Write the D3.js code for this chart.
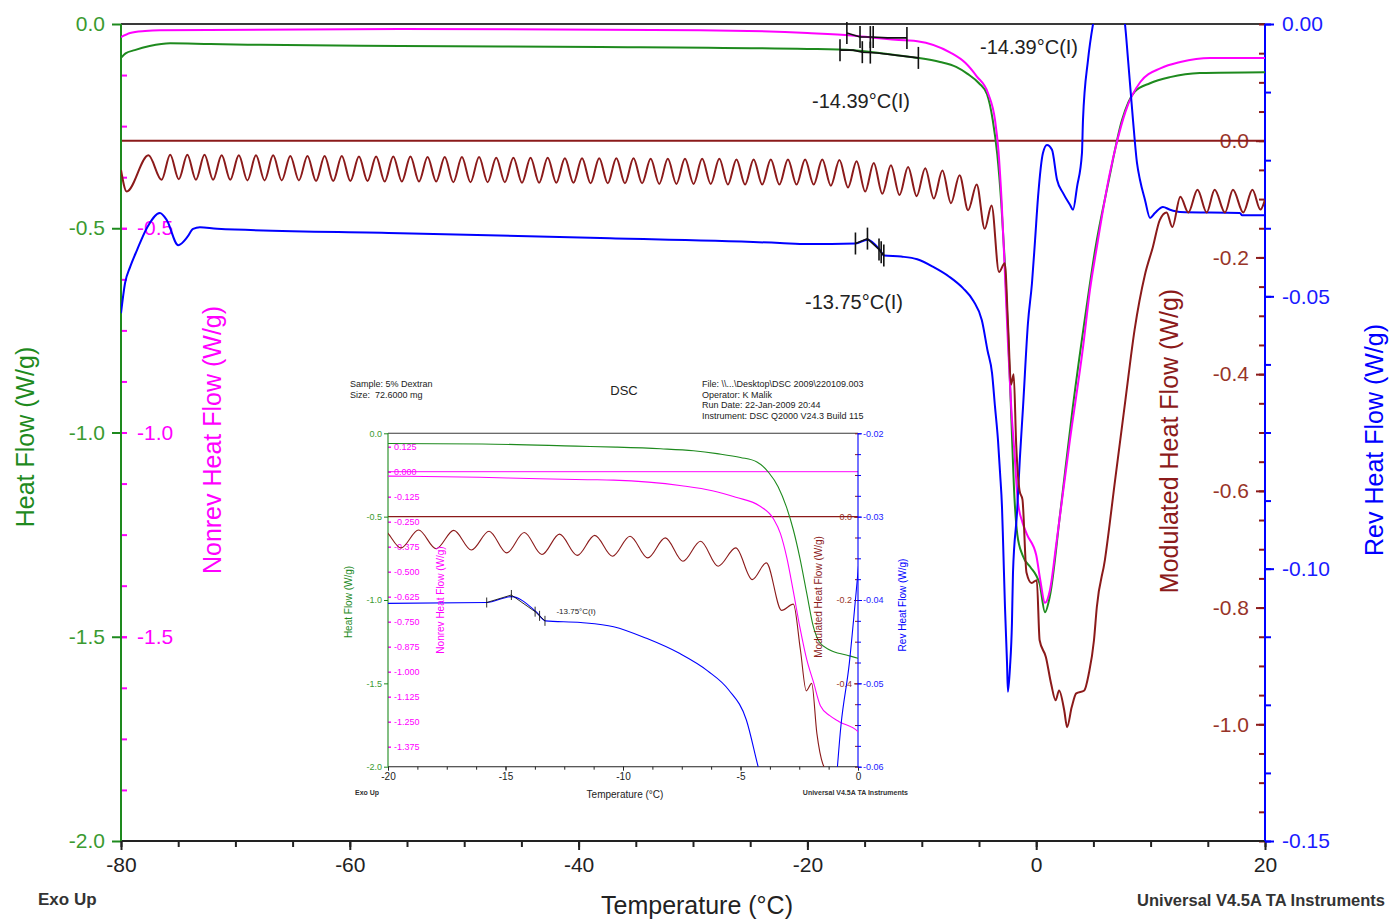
<!DOCTYPE html>
<html lang="en">
<head>
<meta charset="UTF-8">
<title>DSC - 5% Dextran</title>
<script src="https://d3js.org/d3.v7.min.js"></script>
<style>
    body, html { margin: 0; padding: 0; background: #fff; overflow: hidden; }
    svg { display: block; font-family: "Liberation Sans", Arial, sans-serif; }
    .pre { white-space: pre; }
</style>
</head>
<body>
<svg id="chart"></svg>
<script>
// ---- data: [temperature °C, value W/g] ----
const heatFlow = [
    [-80, -0.083], [-79.6, -0.072], [-78.8, -0.064], [-77.5, -0.054], [-75.7, -0.047],
    [-72.2, -0.049], [-67.8, -0.051], [-55.6, -0.054], [-38.1, -0.056], [-20.0, -0.061],
    [-16.0, -0.064], [-12.0, -0.077], [-10.3, -0.083], [-8.4, -0.093], [-7.0, -0.105],
    [-6.0, -0.122], [-5.0, -0.145], [-4.3, -0.172], [-3.8, -0.235], [-3.4, -0.32],
    [-3.05, -0.44], [-2.75, -0.58], [-2.47, -0.75], [-2.18, -0.96], [-1.9, -1.16],
    [-1.65, -1.25], [-1.2, -1.30], [-0.5, -1.33], [0.0, -1.35], [0.3, -1.37],
    [0.77, -1.44], [1.2, -1.40], [2.1, -1.197], [3.2, -0.938], [4.4, -0.693],
    [5.15, -0.553], [6.3, -0.389], [7.5, -0.235], [8.6, -0.166], [9.95, -0.145],
    [11.7, -0.130], [14.3, -0.120], [20, -0.118]
];

const nonrevFlow = [
    [-80, -0.032], [-79.2, -0.022], [-77.9, -0.017], [-76.6, -0.015], [-55.6, -0.012],
    [-29.4, -0.015], [-20.0, -0.022], [-16.1, -0.028], [-14.0, -0.034], [-11.5, -0.040],
    [-10.4, -0.042], [-7.5, -0.070], [-6.2, -0.095], [-5.2, -0.128], [-4.2, -0.170],
    [-3.6, -0.235], [-3.3, -0.31], [-3.03, -0.43], [-2.75, -0.60], [-2.47, -0.78],
    [-2.18, -0.94], [-1.9, -1.05], [-1.6, -1.17], [-1.2, -1.22], [-0.8, -1.25],
    [0.0, -1.30], [0.35, -1.36], [0.77, -1.417], [1.2, -1.386], [1.8, -1.263],
    [2.95, -1.018], [4.1, -0.79], [4.7, -0.651], [5.3, -0.546], [6.4, -0.370],
    [7.1, -0.284], [7.8, -0.215], [9.1, -0.142], [10.9, -0.108], [12.6, -0.093],
    [15.2, -0.083], [20, -0.083]
];

const modulatedFlow = [
    [-80, -0.050], [-79.5, -0.087],
    [-77.6, -0.025], [-76.45, -0.067], [-75.7, -0.024], [-74.95, -0.066], [-74.2, -0.024], [-73.45, -0.067],
    [-72.7, -0.024], [-71.95, -0.067], [-71.2, -0.025], [-70.45, -0.067], [-69.7, -0.025], [-68.95, -0.068],
    [-68.2, -0.025], [-67.45, -0.068], [-66.7, -0.025], [-65.95, -0.068], [-65.2, -0.026], [-64.45, -0.068],
    [-63.7, -0.026], [-62.95, -0.069], [-62.2, -0.026], [-61.45, -0.069], [-60.7, -0.026], [-59.95, -0.069],
    [-59.2, -0.027], [-58.45, -0.069], [-57.7, -0.027], [-56.95, -0.070], [-56.2, -0.027], [-55.45, -0.070],
    [-54.7, -0.027], [-53.95, -0.070], [-53.2, -0.028], [-52.45, -0.070], [-51.7, -0.028], [-50.95, -0.071],
    [-50.2, -0.028], [-49.45, -0.071], [-48.7, -0.028], [-47.95, -0.071], [-47.2, -0.029], [-46.45, -0.071],
    [-45.7, -0.029], [-44.95, -0.072], [-44.2, -0.029], [-43.45, -0.072], [-42.7, -0.029], [-41.95, -0.072],
    [-41.2, -0.030], [-40.45, -0.072], [-39.7, -0.030], [-38.95, -0.073], [-38.2, -0.030], [-37.45, -0.073],
    [-36.7, -0.030], [-35.95, -0.073], [-35.2, -0.030], [-34.45, -0.073], [-33.7, -0.031], [-32.95, -0.074],
    [-32.2, -0.031], [-31.45, -0.074], [-30.7, -0.031], [-29.95, -0.074], [-29.2, -0.031], [-28.45, -0.074],
    [-27.7, -0.031], [-26.95, -0.075], [-26.2, -0.032], [-25.45, -0.075], [-24.7, -0.032], [-23.95, -0.075],
    [-23.2, -0.032], [-22.45, -0.075], [-21.7, -0.032], [-20.95, -0.075], [-20.2, -0.032], [-19.45, -0.075],
    [-18.7, -0.032], [-17.95, -0.077], [-17.2, -0.033], [-16.45, -0.080], [-15.7, -0.035], [-14.95, -0.087],
    [-14.2, -0.038], [-13.45, -0.091], [-12.7, -0.042], [-11.95, -0.093], [-11.2, -0.045], [-10.45, -0.095],
    [-9.7, -0.047], [-8.95, -0.099], [-8.2, -0.051], [-7.45, -0.107], [-6.7, -0.059], [-5.95, -0.119],
    [-5.2, -0.075], [-4.5, -0.151], [-3.9, -0.111], [-3.25, -0.225], [-2.75, -0.21], [-2.45, -0.32],
    [-2.2, -0.418], [-1.97, -0.40], [-1.75, -0.52], [-1.45, -0.60], [-1.2, -0.615], [-0.85, -0.74],
    [-0.4, -0.758], [0.05, -0.753], [0.3, -0.856], [0.85, -0.885], [1.3, -0.93], [1.7, -0.959],
    [2.0, -0.942], [2.45, -0.976], [2.7, -1.005], [3.1, -0.971], [3.5, -0.947], [4.2, -0.942],
    [4.6, -0.913], [5.05, -0.856], [5.3, -0.799], [6.0, -0.719], [6.9, -0.581], [7.8, -0.444],
    [8.6, -0.324], [9.5, -0.230], [10.2, -0.182], [10.8, -0.136], [11.4, -0.123], [11.9, -0.148],
    [12.6, -0.096], [13.3, -0.123], [14.1, -0.084], [14.9, -0.123], [15.6, -0.084], [16.5, -0.123],
    [17.2, -0.084], [18.1, -0.123], [18.9, -0.084], [19.6, -0.118], [20, -0.101]
];

const revFlow = [
    [-80, -0.0531], [-79.65, -0.0476], [-79.2, -0.0446], [-78.6, -0.0415], [-77.7, -0.0373],
    [-76.6, -0.0347], [-76.0, -0.0360], [-75.0, -0.0406], [-74.2, -0.0391], [-73.7, -0.0376],
    [-73.1, -0.0373], [-71.6, -0.0376], [-55.6, -0.0384], [-38.1, -0.0393], [-22.4, -0.0402],
    [-20.0, -0.0404], [-15.8, -0.0403], [-14.75, -0.0396], [-13.7, -0.0414], [-13.3, -0.0425],
    [-11.8, -0.0427], [-10.4, -0.0432], [-9.0, -0.0446], [-7.6, -0.0464], [-6.4, -0.0485],
    [-5.5, -0.0508], [-4.75, -0.0544], [-4.25, -0.0600], [-3.86, -0.0641], [-3.6, -0.0703],
    [-3.34, -0.0764], [-3.16, -0.0824], [-2.99, -0.0887], [-2.9, -0.0947], [-2.73, -0.1070],
    [-2.55, -0.1173], [-2.47, -0.1226], [-2.29, -0.1181], [-2.12, -0.1100], [-2.03, -0.1008],
    [-1.68, -0.0898], [-1.42, -0.0795], [-1.15, -0.0703], [-0.72, -0.0549], [-0.37, -0.0476],
    [-0.10, -0.0397], [0.16, -0.0318], [0.59, -0.0237], [0.94, -0.0222], [1.38, -0.0231],
    [1.82, -0.0286], [2.34, -0.0310], [2.95, -0.0332], [3.22, -0.0341], [3.57, -0.0299],
    [4.0, -0.0237], [4.09, -0.0176], [4.53, -0.0066], [4.97, 0.0], [5.4, 0.0044],
    [6.45, 0.0081], [7.33, 0.0044], [7.76, 0.0], [8.03, -0.0066], [8.46, -0.0176],
    [8.81, -0.0255], [9.07, -0.0286], [9.51, -0.0323], [9.95, -0.0356], [10.38, -0.0347],
    [11.08, -0.0336], [11.7, -0.0341], [12.57, -0.0345], [17.8, -0.0347], [18.0, -0.0351],
    [20, -0.0351]
];

// glass transition onset constructions
const heatTangent = [[-17.15, -0.064], [-16.0, -0.064], [-15.2, -0.069], [-13.9, -0.071], [-10.3, -0.083]];
const heatMarks = [[-17.15, -0.064], [-15.2, -0.069], [-14.5, -0.070], [-10.3, -0.083]];
const nonrevTangent = [[-16.55, -0.022], [-15.4, -0.032], [-14.35, -0.032], [-13.0, -0.034], [-11.3, -0.034]];
const nonrevMarks = [[-16.55, -0.022], [-15.4, -0.032], [-14.5, -0.032], [-14.25, -0.032], [-11.3, -0.034]];
const revTangent = [[-15.8, -0.0403], [-14.75, -0.0394], [-13.74, -0.0414], [-13.32, -0.0425]];
const revMarks = [[-15.8, -0.0403], [-14.75, -0.0394], [-13.74, -0.0414], [-13.55, -0.0419], [-13.32, -0.0425]];

// tick labels
const xTicks = [-80, -60, -40, -20, 0, 20];
const hfTicks = [0, -0.5, -1.0, -1.5, -2.0];
const nonrevTicks = [-0.5, -1.0, -1.5];
const modTicks = [0, -0.2, -0.4, -0.6, -0.8, -1.0];
const revTicks = [0, -0.05, -0.10, -0.15];

const insetXTicks = [-20, -15, -10, -5, 0];
const insetHfTicks = [0, -0.5, -1.0, -1.5, -2.0];
const insetNonrevTicks = [0.125, 0, -0.125, -0.25, -0.375, -0.5, -0.625, -0.75, -0.875, -1.0, -1.125, -1.25, -1.375];
const insetModTicks = [0, -0.2, -0.4];
const insetRevTicks = [-0.02, -0.03, -0.04, -0.05, -0.06];

const C = {
    green: '#1e8a1e', greenText: '#3a9a30', magenta: '#ff00ff', brown: '#8b1a1a',
    brownText: '#983428', blue: '#0000ff', blueText: '#1a1aff', ink: '#222'
};
const FONT = '"Liberation Sans", Arial, sans-serif';

const svg = d3.select('#chart').attr('width', 1391).attr('height', 920);

function styleAxis(g, color, size) {
    g.attr('font-family', null).attr('font-size', null);
    g.select('.domain').remove();
    g.selectAll('line').attr('stroke', color);
    g.selectAll('text').attr('fill', color)
        .style('font-family', FONT).style('font-size', size + 'px');
}

function drawPanel(g, sc, o) {
    const [x0, x1] = sc.x.range();
    const [yTop, yBot] = sc.hf.range();
    const clipId = o.id + '-clip';
    g.append('clipPath').attr('id', clipId).append('rect')
        .attr('x', x0).attr('y', yTop).attr('width', x1 - x0).attr('height', yBot - yTop);

    // reference lines
    g.append('line').attr('x1', x0).attr('x2', x1).attr('y1', yTop).attr('y2', yTop)
        .attr('stroke', '#3a3a3a').attr('stroke-width', o.lw);
    if (o.nonrevZero) {
        g.append('line').attr('x1', x0).attr('x2', x1).attr('y1', sc.nr(0)).attr('y2', sc.nr(0))
            .attr('stroke', C.magenta).attr('stroke-width', o.lw * 0.9);
    }

    // left: heat flow (outside) and nonrev (inside)
    const gHF = g.append('g').attr('transform', `translate(${x0},0)`)
        .call(d3.axisLeft(sc.hf).tickValues(o.hfTicks).tickSize(o.major)
            .tickPadding(o.pad).tickFormat(d => d.toFixed(1)));
    styleAxis(gHF, C.greenText, o.font);
    gHF.selectAll('line').attr('stroke', C.green).attr('stroke-width', o.tw);

    const gNRm = g.append('g').attr('transform', `translate(${x0},0)`)
        .call(d3.axisRight(sc.nr).tickValues(o.nrMinor).tickSize(o.minor).tickFormat(''));
    styleAxis(gNRm, C.magenta, o.font);
    gNRm.selectAll('line').attr('stroke-width', o.tw);

    const gNR = g.append('g').attr('transform', `translate(${x0},0)`)
        .call(d3.axisRight(sc.nr).tickValues(o.nrTicks).tickSize(o.minor)
            .tickPadding(o.nrPad).tickFormat(o.nrFormat));
    styleAxis(gNR, C.magenta, o.font);
    gNR.selectAll('line').attr('stroke-width', o.tw);

    // bottom: temperature
    const gXm = g.append('g').attr('transform', `translate(0,${yBot})`)
        .call(d3.axisBottom(sc.x).tickValues(o.xMinor).tickSize(o.minor).tickFormat(''));
    styleAxis(gXm, '#222', o.font);
    gXm.selectAll('line').attr('stroke-width', o.tw);
    const gX = g.append('g').attr('transform', `translate(0,${yBot})`)
        .call(d3.axisBottom(sc.x).tickValues(o.xTicks).tickSize(o.major)
            .tickPadding(o.xPad).tickFormat(d => d));
    styleAxis(gX, '#222', o.xFont);
    gX.selectAll('line').attr('stroke-width', o.tw);

    // right: modulated (inside) and rev (outside)
    const gModm = g.append('g').attr('transform', `translate(${x1},0)`)
        .call(d3.axisLeft(sc.mod).tickValues(o.modMinor).tickSize(o.minor).tickFormat(''));
    styleAxis(gModm, C.brown, o.font);
    gModm.selectAll('line').attr('stroke-width', o.tw);
    const gMod = g.append('g').attr('transform', `translate(${x1},0)`)
        .call(d3.axisLeft(sc.mod).tickValues(o.modTicks).tickSize(o.major)
            .tickPadding(o.modPad).tickFormat(d => d.toFixed(1)));
    styleAxis(gMod, C.brownText, o.font);
    gMod.selectAll('line').attr('stroke', C.brown).attr('stroke-width', o.tw);

    const gRevm = g.append('g').attr('transform', `translate(${x1},0)`)
        .call(d3.axisRight(sc.rev).tickValues(o.revMinor).tickSize(o.minor).tickFormat(''));
    styleAxis(gRevm, C.blue, o.font);
    gRevm.selectAll('line').attr('stroke-width', o.tw);
    const gRev = g.append('g').attr('transform', `translate(${x1},0)`)
        .call(d3.axisRight(sc.rev).tickValues(o.revTicks).tickSize(o.major)
            .tickPadding(o.revPad).tickFormat(o.revFormat));
    styleAxis(gRev, C.blueText, o.font);
    gRev.selectAll('line').attr('stroke', C.blue).attr('stroke-width', o.tw);

    // modulated zero line
    g.append('line').attr('x1', x0).attr('x2', x1).attr('y1', sc.mod(0)).attr('y2', sc.mod(0))
        .attr('stroke', C.brown).attr('stroke-width', o.lw);

    // axis lines
    g.append('line').attr('x1', x0).attr('x2', x1).attr('y1', yBot).attr('y2', yBot)
        .attr('stroke', '#222').attr('stroke-width', o.lw);
    g.append('line').attr('x1', x0).attr('x2', x0).attr('y1', yTop).attr('y2', yBot)
        .attr('stroke', C.green).attr('stroke-width', o.lw);
    g.append('line').attr('x1', x1).attr('x2', x1).attr('y1', yTop).attr('y2', yBot)
        .attr('stroke', C.blue).attr('stroke-width', o.lw);

    // traces
    const traces = g.append('g').attr('clip-path', `url(#${clipId})`);
    const series = [
        { data: heatFlow, y: sc.hf, color: C.green },
        { data: nonrevFlow, y: sc.nr, color: C.magenta },
        { data: revFlow, y: sc.rev, color: C.blue },
        { data: modulatedFlow, y: sc.mod, color: C.brown }
    ];
    series.forEach(s => {
        const line = d3.line().x(d => sc.x(d[0])).y(d => s.y(d[1])).curve(d3.curveMonotoneX);
        traces.append('path').datum(s.data)
            .attr('fill', 'none').attr('stroke', s.color)
            .attr('stroke-width', o.lw).attr('stroke-linejoin', 'round')
            .attr('d', line);
    });

    // onset constructions
    o.onsets.forEach(a => {
        const line = d3.line().x(d => sc.x(d[0])).y(d => a.y(d[1]));
        g.append('path').datum(a.tangent).attr('fill', 'none')
            .attr('stroke', '#111').attr('stroke-width', o.lw * 0.8).attr('d', line);
        g.selectAll(null).data(a.marks).join('line')
            .attr('x1', d => sc.x(d[0])).attr('x2', d => sc.x(d[0]))
            .attr('y1', d => a.y(d[1]) - o.markLen).attr('y2', d => a.y(d[1]) + o.markLen)
            .attr('stroke', '#111').attr('stroke-width', o.lw * 0.8);
        g.append('text').attr('x', a.lx).attr('y', a.ly)
            .attr('text-anchor', 'middle').attr('dominant-baseline', 'central')
            .attr('fill', '#222').style('font-size', o.onsetFont + 'px').text(a.text);
    });

    // axis titles
    o.titles.forEach(t => {
        g.append('text')
            .attr('transform', `translate(${t.x},${t.y}) rotate(-90)`)
            .attr('text-anchor', 'middle').attr('dominant-baseline', 'central')
            .attr('fill', t.color).style('font-size', o.titleFont + 'px').text(t.text);
    });
}

// ---------------- main plot ----------------
const main = {
    x: d3.scaleLinear().domain([-80, 20]).range([121, 1265]),
    hf: d3.scaleLinear().domain([0, -2]).range([24, 841]),
    nr: d3.scaleLinear().domain([0, -2]).range([24, 841]),
    mod: d3.scaleLinear().domain([0.2, -1.2]).range([24, 841]),
    rev: d3.scaleLinear().domain([0, -0.15]).range([24, 841])
};
const gMain = svg.append('g');
drawPanel(gMain, main, {
    id: 'main', lw: 2, tw: 2, major: 9, minor: 6, pad: 7, font: 21, xFont: 21, xPad: 7,
    hfTicks, nrTicks: nonrevTicks, nrMinor: d3.range(-0.125, -1.9, -0.125),
    nrPad: 10, nrFormat: d => d.toFixed(1),
    xTicks, xMinor: d3.range(-80, 21, 5),
    modTicks, modMinor: d3.range(0.2, -1.21, -0.05), modPad: 7,
    revTicks, revMinor: d3.range(0, -0.151, -0.0125), revPad: 8, revFormat: d => d.toFixed(2),
    nonrevZero: false, markLen: 11, onsetFont: 20, titleFont: 25,
    onsets: [
        { tangent: heatTangent, marks: heatMarks, y: main.hf, text: '-14.39°C(I)', lx: 861, ly: 101 },
        { tangent: nonrevTangent, marks: nonrevMarks, y: main.nr, text: '-14.39°C(I)', lx: 1029, ly: 47 },
        { tangent: revTangent, marks: revMarks, y: main.rev, text: '-13.75°C(I)', lx: 854, ly: 302 }
    ],
    titles: [
        { text: 'Heat Flow (W/g)', x: 25, y: 437, color: C.green },
        { text: 'Nonrev Heat Flow (W/g)', x: 212, y: 440, color: C.magenta },
        { text: 'Modulated Heat Flow (W/g)', x: 1169, y: 441, color: C.brown },
        { text: 'Rev Heat Flow (W/g)', x: 1374, y: 440, color: C.blue }
    ]
});

gMain.append('text').attr('x', 697).attr('y', 905).attr('text-anchor', 'middle')
    .attr('dominant-baseline', 'central').attr('fill', '#222').style('font-size', '25px')
    .text('Temperature (°C)');
gMain.append('text').attr('x', 38).attr('y', 899).attr('dominant-baseline', 'central')
    .attr('fill', '#333').style('font-size', '17px').style('font-weight', 'bold').text('Exo Up');
gMain.append('text').attr('x', 1385).attr('y', 900).attr('text-anchor', 'end')
    .attr('dominant-baseline', 'central').attr('fill', '#333').style('font-size', '16.5px')
    .style('font-weight', 'bold').text('Universal V4.5A TA Instruments');

// ---------------- inset: zoom on -20..0 °C ----------------
const gInset = svg.append('g');
gInset.append('rect').attr('x', 338).attr('y', 372).attr('width', 578).attr('height', 430).attr('fill', '#fff');

const inset = {
    x: d3.scaleLinear().domain([-20, 0]).range([388, 858]),
    hf: d3.scaleLinear().domain([0, -2]).range([433.3, 766.7]),
    nr: d3.scaleLinear().domain([0.192, -1.475]).range([433.3, 766.7]),
    mod: d3.scaleLinear().domain([0.2, -0.6]).range([433.3, 766.7]),
    rev: d3.scaleLinear().domain([-0.02, -0.06]).range([433.3, 766.7])
};
drawPanel(gInset, inset, {
    id: 'inset', lw: 1.1, tw: 1, major: 4, minor: 3, pad: 2, font: 9, xFont: 10, xPad: 2,
    hfTicks: insetHfTicks, nrTicks: insetNonrevTicks, nrMinor: insetNonrevTicks,
    nrPad: 3, nrFormat: d => d.toFixed(3),
    xTicks: insetXTicks, xMinor: d3.range(-20, 0.01, 1.25),
    modTicks: insetModTicks, modMinor: d3.range(0.2, -0.61, -0.05), modPad: 2,
    revTicks: insetRevTicks, revMinor: d3.range(-0.02, -0.0601, -0.0025), revPad: 1,
    revFormat: d => d.toFixed(2),
    nonrevZero: true, markLen: 5, onsetFont: 8, titleFont: 10,
    onsets: [
        { tangent: revTangent, marks: revMarks, y: inset.rev, text: '-13.75°C(I)', lx: 576, ly: 611 }
    ],
    titles: [
        { text: 'Heat Flow (W/g)', x: 348, y: 602, color: C.green },
        { text: 'Nonrev Heat Flow (W/g)', x: 440, y: 600, color: C.magenta },
        { text: 'Modulated Heat Flow (W/g)', x: 818, y: 597, color: C.brown },
        { text: 'Rev Heat Flow (W/g)', x: 902, y: 605, color: C.blue }
    ]
});

// inset header and footer
const header = [
    { t: 'Sample: 5% Dextran', x: 350, y: 384 },
    { t: 'Size:  72.6000 mg', x: 350, y: 395 },
    { t: 'File: \\\\...\\Desktop\\DSC 2009\\220109.003', x: 702, y: 384 },
    { t: 'Operator: K Malik', x: 702, y: 394.5 },
    { t: 'Run Date: 22-Jan-2009 20:44', x: 702, y: 405 },
    { t: 'Instrument: DSC Q2000 V24.3 Build 115', x: 702, y: 415.5 }
];
gInset.selectAll('text.hdr').data(header).join('text')
    .attr('class', 'hdr pre').attr('x', d => d.x).attr('y', d => d.y)
    .attr('dominant-baseline', 'central').attr('fill', '#222')
    .style('font-size', '9px').text(d => d.t);
gInset.append('text').attr('x', 624).attr('y', 390).attr('text-anchor', 'middle')
    .attr('dominant-baseline', 'central').attr('fill', '#222').style('font-size', '13px').text('DSC');
gInset.append('text').attr('x', 625).attr('y', 794).attr('text-anchor', 'middle')
    .attr('dominant-baseline', 'central').attr('fill', '#222').style('font-size', '10px')
    .text('Temperature (°C)');
gInset.append('text').attr('x', 355).attr('y', 792).attr('dominant-baseline', 'central')
    .attr('fill', '#333').style('font-size', '7px').style('font-weight', 'bold').text('Exo Up');
gInset.append('text').attr('x', 908).attr('y', 792).attr('text-anchor', 'end')
    .attr('dominant-baseline', 'central').attr('fill', '#333').style('font-size', '7px')
    .style('font-weight', 'bold').text('Universal V4.5A TA Instruments');
</script>
</body>
</html>
